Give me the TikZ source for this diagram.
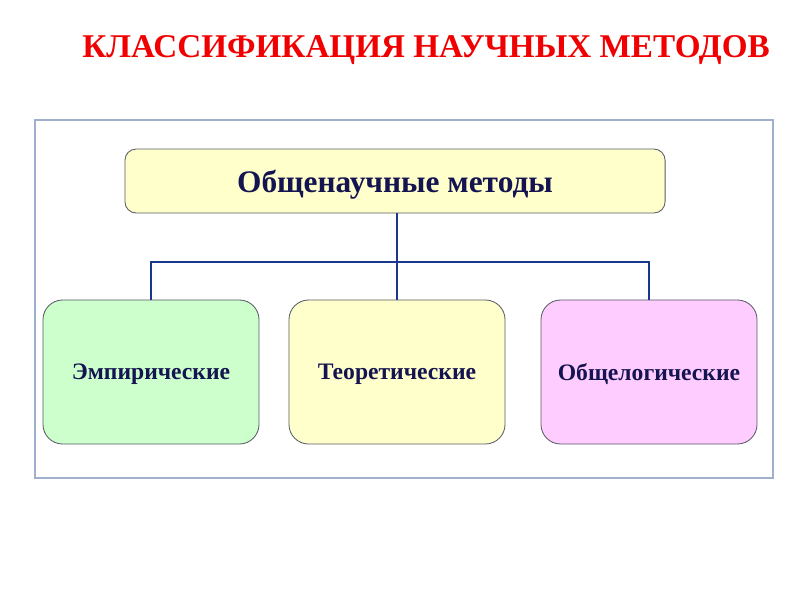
\documentclass[tikz,border=0pt]{standalone}
\usepackage{fontspec}
\setmainfont{Liberation Serif}
\usepackage{tikz}
\usetikzlibrary{positioning}
\definecolor{titlered}{RGB}{240,0,0}
\definecolor{textnavy}{RGB}{20,20,80}
\definecolor{linkblue}{RGB}{25,55,140}
\definecolor{framegray}{RGB}{160,175,205}
\definecolor{boxgray}{RGB}{90,90,105}
\definecolor{fillyellow}{RGB}{255,255,204}
\definecolor{fillgreen}{RGB}{204,255,204}
\definecolor{fillpink}{RGB}{255,204,255}
\tikzset{
  topbox/.style={draw=boxgray,line width=0.6pt,fill=fillyellow,rounded corners=8pt,minimum width=13.5cm,minimum height=1.6cm,text depth=0pt,font=\fontsize{22.3}{26}\selectfont\bfseries,text=textnavy},
  kindbox/.style={draw=boxgray,line width=0.6pt,rounded corners=14pt,minimum width=5.4cm,minimum height=3.6cm,text depth=0pt,font=\fontsize{16.8}{20}\selectfont\bfseries,text=textnavy},
  link/.style={linkblue,line width=1.8pt}
}
\begin{document}
\begin{tikzpicture}[x=0.025cm,y=-0.025cm]
  \useasboundingbox (0,0) rectangle (800,600);
  \node[font=\fontsize{23.6}{28}\selectfont\bfseries,text=titlered,text depth=0pt] (title) at (426,47) {КЛАССИФИКАЦИЯ НАУЧНЫХ МЕТОДОВ};
  \draw[framegray,line width=0.8pt] (35,120) rectangle (773,478);
  \node[topbox] (general) at (395,181) {Общенаучные методы};
  \node[kindbox,fill=fillgreen] (empir) at (151,372) {Эмпирические};
  \node[kindbox,fill=fillyellow] (theor) at (397,372) {Теоретические};
  \node[kindbox,fill=fillpink] (logic) at (649,372) {Общелогические};
  \coordinate (split) at (397,262);
  \draw[link] (general.south -| theor.north) -- (theor.north);
  \draw[link] (empir.north) |- (split) -| (logic.north);
\end{tikzpicture}
\end{document}
